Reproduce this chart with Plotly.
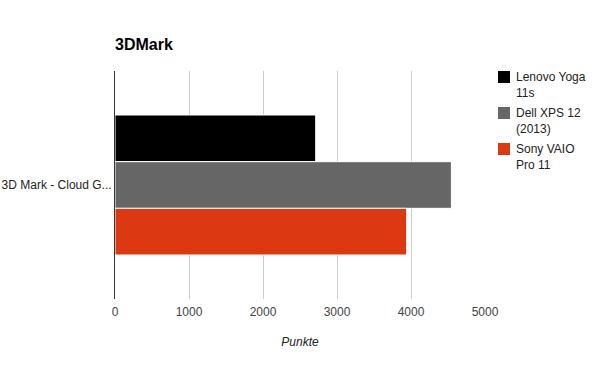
import plotly.graph_objects as go

categories = ["3D Mark - Cloud G..."]
series_names = ["Lenovo Yoga 11s", "Dell XPS 12 (2013)", "Sony VAIO Pro 11"]
legend_labels = ["Lenovo Yoga<br>11s", "Dell XPS 12<br>(2013)", "Sony VAIO<br>Pro 11"]
lenovo_vals = [2712]
dell_vals = [4546]
sony_vals = [3942]
series_values = [lenovo_vals, dell_vals, sony_vals]
colors = ["#000000", "#666666", "#dc3912"]
x_ticks = [0, 1000, 2000, 3000, 4000, 5000]

W, H = 600, 371
L, R, T, B = 115, 115, 71, 72
PW, PH = W - L - R, H - T - B
FONT = "Arial, Liberation Sans, sans-serif"

def px_x(px):
    return (px - L) / PW

def px_y(py):
    return (H - B - py) / PH

fig = go.Figure()
for name, vals, col in zip(series_names, series_values, colors):
    fig.add_trace(go.Bar(
        y=categories, x=vals, name=name, orientation="h",
        marker=dict(color=col, line=dict(color="#ffffff", width=1)),
        showlegend=False,
    ))

# manual legend (Google Charts style)
for i, (lab, col) in enumerate(zip(legend_labels, colors)):
    top = 71 + 36 * i
    fig.add_shape(type="rect", xref="paper", yref="paper",
                  x0=px_x(498), x1=px_x(510), y0=px_y(top + 12), y1=px_y(top),
                  fillcolor=col, line=dict(width=0))
    fig.add_annotation(xref="paper", yref="paper", x=px_x(514), y=px_y(top + 14),
                       text=lab, showarrow=False, xanchor="left", yanchor="middle",
                       align="left", font=dict(family=FONT, size=12, color="#222222"))

fig.update_layout(
    width=W, height=H,
    margin=dict(l=L, r=R, t=T, b=B, autoexpand=False),
    paper_bgcolor="#ffffff", plot_bgcolor="#ffffff",
    barmode="group", bargap=0.386, bargroupgap=0,
    font=dict(family=FONT, size=12, color="#222222"),
    title=dict(text="<b>3DMark</b>", x=px_x(115), xref="paper", xanchor="left",
               y=1 - 44 / H, yref="container", yanchor="middle",
               font=dict(family=FONT, size=16, color="#000000")),
    xaxis=dict(range=[0, 5000], tickvals=x_ticks, ticktext=[str(v) for v in x_ticks],
               showgrid=True, gridcolor="#cccccc", gridwidth=1, zeroline=False,
               showline=False, ticks="", tickfont=dict(size=12, color="#444444"),
               ticklabelstandoff=4, automargin=True,
               title=dict(text="<i>Punkte</i>", font=dict(size=12, color="#222222"), standoff=20),
               fixedrange=True),
    yaxis=dict(autorange="reversed", showgrid=False, zeroline=False, automargin=False,
               showline=True, linecolor="#333333", linewidth=1, layer="above traces",
               ticks="", tickfont=dict(size=12, color="#222222"), fixedrange=True),
)
fig.update_xaxes(title_standoff=19)

fig.write_html("out.html")
